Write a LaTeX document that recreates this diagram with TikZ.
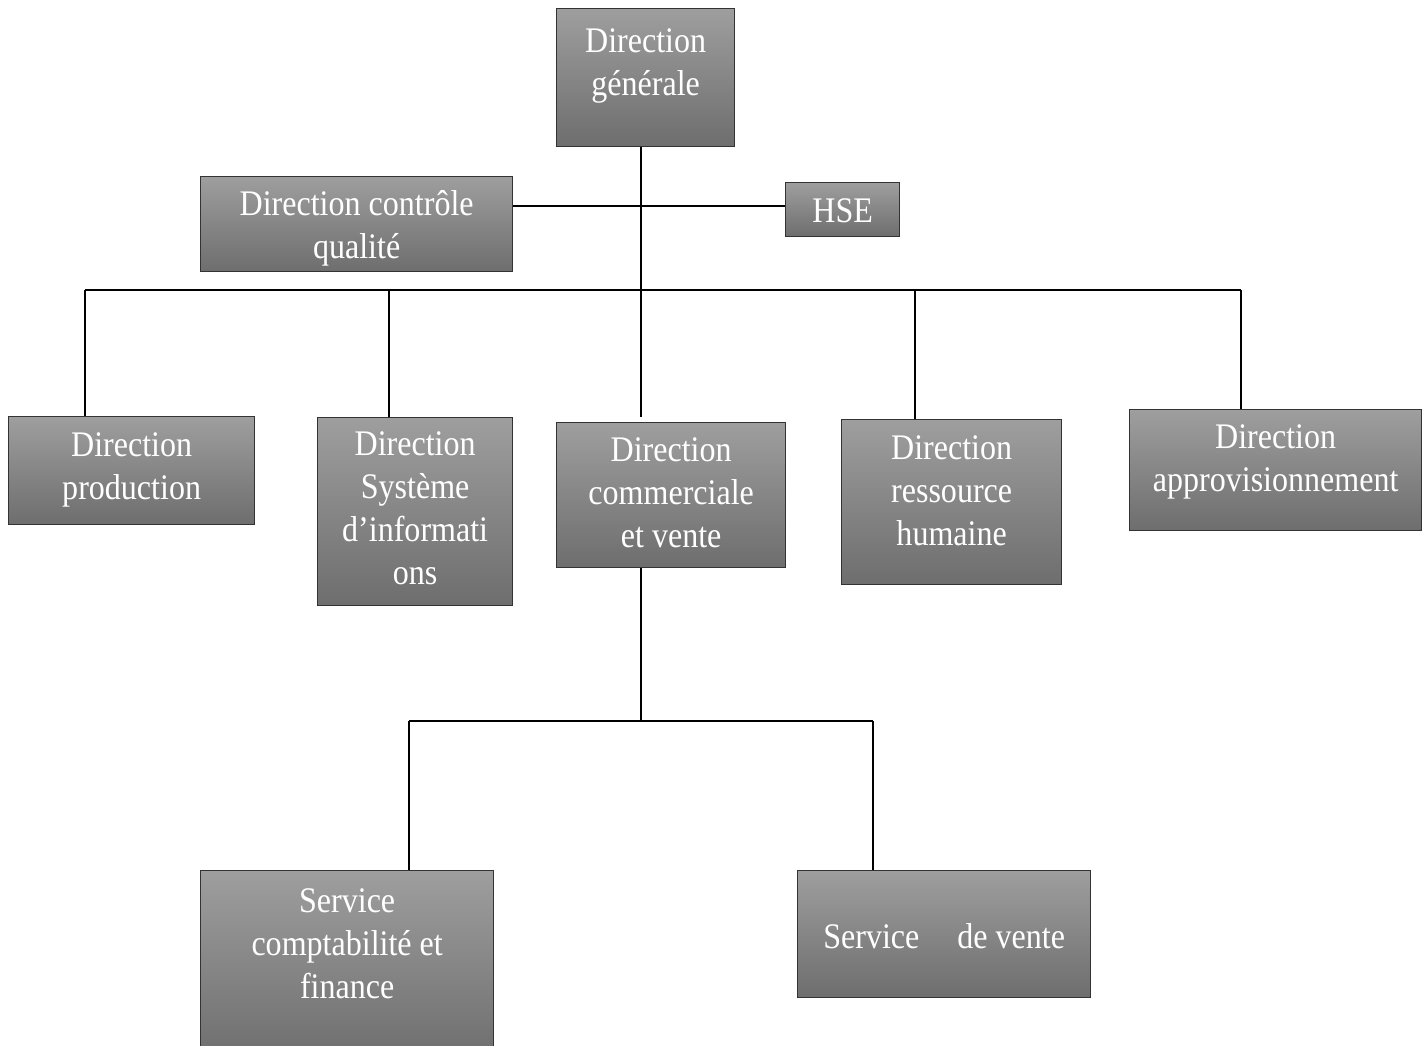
\documentclass[tikz,border=0pt]{standalone}
\usepackage{fontspec}
\setmainfont{Liberation Serif}[FakeStretch=0.89]
\begin{document}
\begin{tikzpicture}[x=1pt,y=-1pt,
  box/.style={draw=black!80, line width=1.3pt, top color=black!38, bottom color=black!57,
    shading angle=0, rectangle, inner sep=0pt, anchor=north west},
  txt/.style={text=white, inner sep=0pt, align=center, anchor=base,
    font=\fontsize{36}{43}\selectfont},
  conn/.style={draw=black, line width=1.2pt}]
\useasboundingbox (0,0) rectangle (1427,1045);
% boxes
\node[box, minimum width=178pt, minimum height=138pt] (dg) at (556,8) {};
\node[box, minimum width=312pt, minimum height=95pt] (dcq) at (200,176) {};
\node[box, minimum width=114pt, minimum height=54pt] (hse) at (785,182) {};
\node[box, minimum width=246pt, minimum height=108pt] (dp) at (8,416) {};
\node[box, minimum width=195pt, minimum height=188pt] (dsi) at (317,417) {};
\node[box, minimum width=229pt, minimum height=145pt] (dcv) at (556,422) {};
\node[box, minimum width=220pt, minimum height=165pt] (drh) at (841,419) {};
\node[box, minimum width=292pt, minimum height=121pt] (da) at (1129,409) {};
\node[box, minimum width=293pt, minimum height=190pt] (scf) at (200,870) {};
\node[box, minimum width=293pt, minimum height=127pt] (sv) at (797,870) {};
% texts (anchor = baseline of last line)
\node[txt] (dgt) at ([yshift=-87pt]dg.north) {Direction\\générale};
\node[txt] (dcqt) at ([yshift=-82pt]dcq.north) {Direction contrôle\\qualité};
\node[txt] (hset) at ([yshift=-40pt]hse.north) {HSE};
\node[txt] (dpt) at ([yshift=-83pt]dp.north) {Direction\\production};
\node[txt] (dsit) at ([yshift=-167pt]dsi.north) {Direction\\Système\\d’informati\\ons};
\node[txt] (dcvt) at ([yshift=-125pt]dcv.north) {Direction\\commerciale\\et vente};
\node[txt] (drht) at ([yshift=-126pt]drh.north) {Direction\\ressource\\humaine};
\node[txt] (dat) at ([yshift=-82pt]da.north) {Direction\\approvisionnement};
\node[txt] (scft) at ([yshift=-128pt]scf.north) {Service\\comptabilité et\\finance};
\node[txt] (svt) at ([yshift=-78pt]sv.north) {Service\hspace{38pt}de vente};
% coordinates
\coordinate (m0) at (641,146);
\coordinate (m1) at (641,417);
\coordinate (q) at (641,206);
\coordinate (b1) at (85,290);
\coordinate (b2) at (389,290);
\coordinate (b4) at (915,290);
\coordinate (b5) at (1241,290);
\coordinate (s0) at (641,721);
\coordinate (s1) at (409,721);
\coordinate (s2) at (873,721);
% connectors
\draw[conn] (m0 |- dg.south) -- (m1);
\draw[conn] (dcq.east |- q) -- (hse.west |- q);
\draw[conn] (b1) -- (b5);
\draw[conn] (b1) -- (b1 |- dp.north);
\draw[conn] (b2) -- (b2 |- dsi.north);
\draw[conn] (b4) -- (b4 |- drh.north);
\draw[conn] (b5) -- (b5 |- da.north);
\draw[conn] (s0 |- dcv.south) -- (s0);
\draw[conn] (s1) -- (s2);
\draw[conn] (s1) -- (s1 |- scf.north);
\draw[conn] (s2) -- (s2 |- sv.north);
\end{tikzpicture}
\end{document}
